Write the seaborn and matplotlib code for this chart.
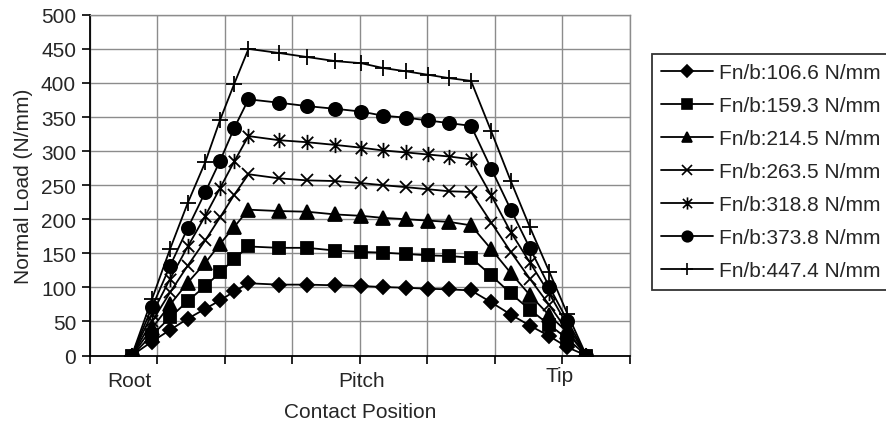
import numpy as np
import pandas as pd
import matplotlib
matplotlib.use("Agg")
import matplotlib.pyplot as plt
from matplotlib.path import Path
import seaborn as sns

# ---------------- data ----------------
contact_pos = [0.62, 0.92, 1.19, 1.45, 1.71, 1.93, 2.14, 2.35, 2.80, 3.22, 3.64,
               4.02, 4.34, 4.69, 5.01, 5.33, 5.65, 5.95, 6.24, 6.52, 6.81, 7.08, 7.36]

load_106_6 = [0, 20.5, 37.7, 54, 68.6, 81, 94, 106, 104, 104, 103, 102, 100.5, 99.4,
              98, 97, 95.5, 78, 60, 44, 28.5, 12, 0]
load_159_3 = [0, 30, 56, 80, 102, 122, 142, 160, 158, 158, 154, 152, 151, 149,
              147, 146, 143.5, 117.5, 91, 67.5, 45, 24.5, 0]
load_214_5 = [0, 40, 75, 107, 136, 164, 189, 214, 212, 211, 207, 205, 202, 200,
              198, 196, 191, 156, 121, 89, 59, 34, 0]
load_263_5 = [0, 50, 93, 132, 169, 203, 236, 266, 260, 257, 256, 253, 250, 247,
              244, 241, 240, 195, 152, 113, 74, 36, 0]
load_318_8 = [0, 61, 113, 160, 205, 246, 285, 322, 316, 313, 309, 305, 301, 298,
              295, 292, 288, 235, 181, 137, 91, 44, 0]
load_373_8 = [0, 71, 132, 187, 240, 286, 334, 376, 371, 366, 362, 358, 352, 349,
              345, 341, 337, 274, 214, 158, 101, 51, 0]
load_447_4 = [0, 83, 157, 224, 284, 346, 399, 450, 444, 438, 432, 429, 422, 417,
              412, 407, 403, 329, 256, 189, 123, 61, 0]

series_labels = ["Fn/b:106.6 N/mm", "Fn/b:159.3 N/mm", "Fn/b:214.5 N/mm",
                 "Fn/b:263.5 N/mm", "Fn/b:318.8 N/mm", "Fn/b:373.8 N/mm",
                 "Fn/b:447.4 N/mm"]
series_values = [load_106_6, load_159_3, load_214_5, load_263_5,
                 load_318_8, load_373_8, load_447_4]

position_labels = ["Root", "Pitch", "Tip"]
position_label_x = [0.59, 4.02, 6.96]

y_ticks = list(range(0, 501, 50))

# ---------------- style ----------------
sns.set_style("white")
plt.rcParams["font.family"] = ["Liberation Sans", "DejaVu Sans"]
plt.rcParams["font.size"] = 15

star = Path([(0, -1), (0, 1), (-0.75, -0.75), (0.75, 0.75), (-0.75, 0.75), (0.75, -0.75)],
            [Path.MOVETO, Path.LINETO, Path.MOVETO, Path.LINETO, Path.MOVETO, Path.LINETO])

markers = ["D", "s", "^", "x", star, "o", "+"]
msizes = [7.5, 9, 9.5, 9, 11, 9.5, 11]

rows = []
for lab, vals in zip(series_labels, series_values):
    for xv, yv in zip(contact_pos, vals):
        rows.append({"pos": xv, "load": yv, "series": lab})
df = pd.DataFrame(rows)

fig = plt.figure(figsize=(8.86, 4.27), dpi=100)
ax = fig.add_axes([90 / 886, 1 - 356.5 / 427, (629.5 - 90) / 886, (356.5 - 15.8) / 427])

n = len(series_labels)
for i in range(n - 1, -1, -1):
    lab = series_labels[i]
    sub = df[df["series"] == lab]
    sns.lineplot(data=sub, x="pos", y="load", ax=ax, color="black", linewidth=1.3,
                 marker=markers[i], markersize=msizes[i], markeredgewidth=1.3,
                 markeredgecolor="black", markerfacecolor="black", sort=False,
                 label=lab, zorder=3 + (n - i), legend=False)

ax.set_xlim(0, 8)
ax.set_ylim(0, 500)
ax.set_xticks(range(0, 9))
ax.set_xticklabels([])
ax.set_yticks(y_ticks)
ax.set_yticklabels([str(v) for v in y_ticks], fontsize=15)
ax.grid(True, color="#8c8c8c", linewidth=1.0)
ax.set_axisbelow(True)
ax.tick_params(axis="both", direction="out", length=6, width=1.2, color="black",
               left=True, bottom=True)
ax.tick_params(axis="y", pad=4)
for side in ["left", "bottom"]:
    ax.spines[side].set_color("black")
    ax.spines[side].set_linewidth(1.3)
for side in ["top", "right"]:
    ax.spines[side].set_color("#8c8c8c")
    ax.spines[side].set_linewidth(1.0)

# position labels below the axis
label_y = [-0.072, -0.072, -0.058]
for lx, ly, txt in zip(position_label_x, label_y, position_labels):
    ax.text(lx, ly, txt, transform=ax.get_xaxis_transform(), ha="center",
            va="center", fontsize=15)

ax.set_xlabel("Contact Position", fontsize=15, labelpad=24)
ax.set_ylabel("Normal Load (N/mm)", fontsize=15, labelpad=6)

# legend
handles = []
for i in range(n):
    h, = ax.plot([], [], color="black", linewidth=1.3, marker=markers[i],
                 markersize=msizes[i] * 0.8, markeredgewidth=1.2,
                 markerfacecolor="black", markeredgecolor="black")
    handles.append(h)
leg = fig.legend(handles, series_labels, loc="upper left",
                 bbox_to_anchor=(651.7 / 886, 1 - 55 / 427), frameon=True,
                 fancybox=False, edgecolor="black", fontsize=15,
                 handlelength=2.5, handletextpad=0.3, labelspacing=0.67,
                 borderpad=0.45, borderaxespad=0)
leg.get_frame().set_linewidth(1.3)

fig.savefig("out.png", dpi=100)
